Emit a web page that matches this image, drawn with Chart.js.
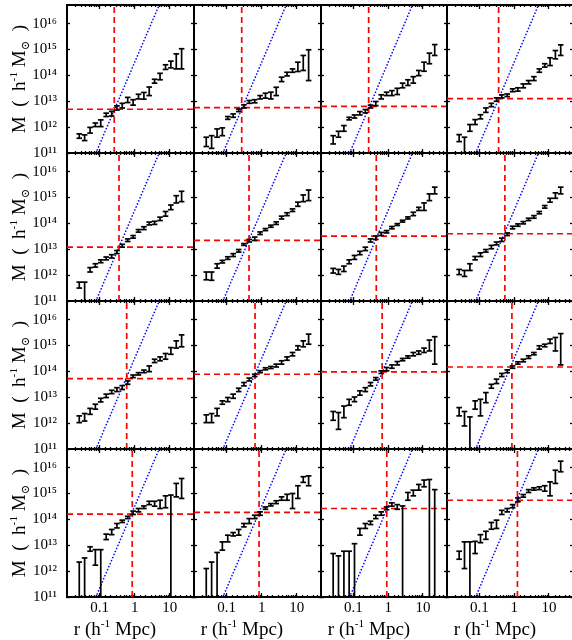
<!DOCTYPE html>
<html>
<head>
<meta charset="utf-8">
<script src="https://cdn.jsdelivr.net/npm/chart.js@4.4.0/dist/chart.umd.min.js"></script>
<style>
  html, body { margin: 0; padding: 0; background: #fff; overflow: hidden; }
  #fig { position: relative; width: 572px; height: 640px; overflow: hidden; background: #fff; }
  #fig canvas { position: absolute; left: 0; top: -20px; }
  .title { position: absolute; font-family: 'Liberation Serif', 'DejaVu Serif', serif; font-size: 19px; color: #000; white-space: nowrap; line-height: 1; }
  .title.y { transform: translate(-50%, -50%) rotate(-90deg); }
  .title.x { transform: translate(-50%, -50%); }
  .title sup, .title sub { font-size: 60%; line-height: 0; }
</style>
</head>
<body>
<div id="fig"></div>
<script>
// radial bins, same in every panel
const rBins = [0.026, 0.037, 0.053, 0.075, 0.107, 0.153, 0.22, 0.31, 0.44, 0.63,
               0.9, 1.28, 1.83, 2.6, 3.7, 5.3, 7.6, 10.8, 15.4, 21.9];

// log10 M at the top (hi) and bottom (lo) of each error bar, panels read row by row
const hi1 = [11.74, 11.70, 11.99, 12.16, 12.28, 12.54, 12.61, 12.82, 12.92, 13.15, 13.06, 13.27, 13.34, 13.55, 13.85, 14.08, 14.41, 14.55, 14.83, 15.03];
const lo1 = [11.57, 11.48, 11.77, 12.02, 12.02, 12.41, 12.43, 12.66, 12.74, 12.95, 12.85, 13.09, 13.08, 13.22, 13.70, 13.83, 14.23, 14.29, 14.25, 14.25];
const hi2 = [11.61, 11.67, 11.93, 11.97, 12.41, 12.51, 12.70, 12.86, 13.03, 13.06, 13.22, 13.31, 13.35, 13.54, 13.93, 14.12, 14.25, 14.51, 14.77, 14.99];
const lo2 = [11.25, 11.18, 11.61, 11.67, 12.30, 12.38, 12.60, 12.74, 12.92, 12.94, 13.09, 13.12, 13.09, 13.22, 13.76, 13.98, 14.12, 14.15, 14.19, 13.80];
const hi3 = [11.67, 11.84, 12.06, 12.38, 12.47, 12.60, 12.68, 12.85, 12.99, 13.25, 13.35, 13.41, 13.50, 13.70, 13.83, 13.95, 14.19, 14.51, 14.86, 15.19];
const lo3 = [11.35, 11.61, 11.84, 12.28, 12.35, 12.47, 12.55, 12.74, 12.83, 13.09, 13.22, 13.22, 13.26, 13.52, 13.61, 13.70, 13.99, 14.16, 14.45, 14.77];
const hi4 = [11.71, 11.61, 12.10, 12.29, 12.48, 12.74, 12.92, 13.13, 13.25, 13.28, 13.48, 13.52, 13.67, 13.80, 13.95, 14.25, 14.45, 14.68, 14.96, 15.18];
const lo4 = [11.44, 10.90, 11.84, 12.10, 12.32, 12.57, 12.79, 13.00, 13.13, 13.18, 13.37, 13.39, 13.52, 13.67, 13.80, 14.12, 14.32, 14.38, 14.64, 14.77];

const hi5 = [11.73, 11.73, 12.29, 12.44, 12.59, 12.70, 12.79, 12.95, 13.19, 13.40, 13.53, 13.76, 13.87, 14.05, 14.08, 14.24, 14.46, 14.71, 15.07, 15.24];
const lo5 = [11.50, 10.90, 12.12, 12.31, 12.48, 12.59, 12.66, 12.83, 13.08, 13.30, 13.43, 13.66, 13.76, 13.94, 13.96, 14.11, 14.28, 14.53, 14.79, 14.84];
const hi6 = [12.12, 12.12, 12.44, 12.57, 12.71, 12.83, 12.99, 13.22, 13.38, 13.47, 13.67, 13.80, 13.93, 14.06, 14.28, 14.41, 14.56, 14.82, 15.10, 15.29];
const lo6 = [11.82, 11.80, 12.27, 12.47, 12.61, 12.72, 12.89, 13.15, 13.28, 13.34, 13.57, 13.72, 13.85, 13.96, 14.17, 14.30, 14.46, 14.66, 14.84, 14.88];
const hi7 = [12.26, 12.22, 12.35, 12.59, 12.76, 12.92, 13.08, 13.40, 13.51, 13.65, 13.72, 13.88, 13.99, 14.12, 14.25, 14.43, 14.62, 14.79, 15.14, 15.40];
const lo7 = [12.08, 12.03, 12.14, 12.44, 12.61, 12.79, 12.95, 13.28, 13.38, 13.53, 13.63, 13.79, 13.92, 14.05, 14.17, 14.30, 14.50, 14.50, 14.88, 15.14];
const hi8 = [12.22, 12.18, 12.44, 12.72, 12.86, 12.99, 13.15, 13.28, 13.43, 13.63, 13.89, 13.98, 14.07, 14.20, 14.30, 14.46, 14.69, 14.97, 15.18, 15.40];
const lo8 = [12.02, 11.95, 12.18, 12.59, 12.72, 12.89, 13.02, 13.17, 13.30, 13.53, 13.79, 13.89, 13.98, 14.11, 14.20, 14.37, 14.59, 14.82, 14.97, 15.14];

const hi9 = [12.28, 12.37, 12.57, 12.73, 12.96, 13.12, 13.27, 13.37, 13.45, 13.63, 13.86, 13.95, 14.05, 14.21, 14.47, 14.56, 14.69, 14.92, 15.18, 15.41];
const lo9 = [12.02, 12.08, 12.34, 12.54, 12.82, 12.99, 13.14, 13.22, 13.30, 13.50, 13.76, 13.86, 13.95, 13.99, 14.34, 14.41, 14.47, 14.66, 14.90, 14.95];
const hi10 = [12.32, 12.37, 12.57, 12.86, 12.99, 13.12, 13.35, 13.57, 13.74, 13.89, 14.03, 14.14, 14.19, 14.28, 14.41, 14.56, 14.73, 14.99, 15.18, 15.44];
const lo10 = [12.02, 12.02, 12.28, 12.73, 12.83, 12.96, 13.22, 13.44, 13.63, 13.80, 13.95, 14.06, 14.11, 14.17, 14.28, 14.43, 14.60, 14.83, 14.95, 15.05];
const hi11 = [12.45, 12.41, 12.66, 12.92, 13.01, 13.25, 13.37, 13.57, 13.76, 14.02, 14.15, 14.25, 14.38, 14.50, 14.60, 14.73, 14.79, 14.90, 15.21, 15.34];
const lo11 = [12.11, 11.76, 12.21, 12.69, 12.83, 13.08, 13.22, 13.44, 13.66, 13.92, 14.02, 14.12, 14.25, 14.41, 14.51, 14.60, 14.66, 14.73, 14.79, 14.28];
const hi12 = [12.60, 12.45, 12.24, 12.86, 12.92, 13.18, 13.50, 13.70, 13.92, 14.06, 14.21, 14.37, 14.47, 14.60, 14.73, 14.99, 15.05, 15.25, 15.31, 15.46];
const lo12 = [12.28, 11.89, 10.90, 12.54, 12.28, 12.79, 13.35, 13.53, 13.80, 13.95, 14.12, 14.28, 14.37, 14.50, 14.64, 14.86, 14.95, 15.08, 14.79, 14.25];

const hi13 = [12.35, 12.51, 12.94, 12.83, 12.83, 13.43, 13.61, 13.84, 13.97, 14.12, 14.32, 14.42, 14.52, 14.70, 14.70, 14.74, 14.91, 14.94, 15.39, 15.58];
const lo13 = [10.90, 10.90, 12.77, 12.23, 10.90, 13.22, 13.41, 13.67, 13.88, 14.03, 14.19, 14.29, 14.42, 14.57, 14.51, 14.42, 14.45, 10.90, 14.87, 14.81];
const hi14 = [12.10, 12.35, 12.72, 13.13, 13.39, 13.49, 13.61, 13.84, 14.03, 14.16, 14.29, 14.48, 14.61, 14.72, 14.87, 14.97, 15.00, 15.30, 15.65, 15.68];
const lo14 = [10.90, 10.90, 10.90, 12.81, 13.13, 13.36, 13.39, 13.71, 13.84, 14.03, 14.16, 14.39, 14.52, 14.61, 14.74, 14.74, 14.42, 14.81, 15.43, 15.30];
const hi15 = [12.68, 12.59, 12.77, 12.77, 13.06, 13.65, 13.84, 13.93, 14.16, 14.29, 14.48, 14.64, 14.57, 14.52, 15.04, 15.13, 15.35, 15.52, 15.54, 15.15];
const lo15 = [10.90, 10.90, 10.90, 10.90, 10.90, 13.39, 13.65, 13.80, 14.03, 14.16, 14.37, 14.51, 14.39, 10.90, 14.74, 14.91, 15.13, 15.26, 10.90, 10.90];
const hi16 = [12.77, 13.13, 13.13, 13.15, 13.41, 13.54, 13.88, 13.97, 14.35, 14.42, 14.57, 14.83, 14.96, 15.15, 15.22, 15.26, 15.30, 15.45, 15.90, 16.25];
const lo16 = [12.46, 12.10, 10.90, 12.68, 13.10, 13.23, 13.62, 13.65, 14.19, 14.29, 14.45, 14.68, 14.86, 15.04, 15.13, 15.15, 15.09, 14.91, 15.39, 15.84];

// red dashed cross per panel: radius and log10 mass
const redR = [0.26, 0.268, 0.274, 0.356, 0.356, 0.434, 0.454, 0.54, 0.59, 0.645, 0.67, 0.86, 0.85, 0.84, 0.91, 1.24];
const redLogM = [12.69, 12.75, 12.80, 13.10, 13.08, 13.34, 13.51, 13.60, 13.72, 13.89, 13.98, 14.17, 14.20, 14.27, 14.42, 14.74];

// blue dotted line, same in every panel
const blueR = [0.0776, 5.0];
const blueLogM = [11, 16.72];

const xTicks = [0.1, 1, 10];
const yTickExps = [11, 12, 13, 14, 15, 16];

const X_MIN = 0.0116, X_MAX = 49.5;
const Y_MIN = 1e11, Y_MAX = 5.25e16;

const his = [hi1, hi2, hi3, hi4, hi5, hi6, hi7, hi8, hi9, hi10, hi11, hi12, hi13, hi14, hi15, hi16];
const los = [lo1, lo2, lo3, lo4, lo5, lo6, lo7, lo8, lo9, lo10, lo11, lo12, lo13, lo14, lo15, lo16];

// panel frame edges on the page
const COL_EDGES = [67, 194, 321, 447, 573];
const ROW_EDGES = [5, 153, 301, 449, 597];
const CANVAS_W = 600, CANVAS_H = 680, SHIFT = 20;
const Y_LABEL_W = 60, X_LABEL_H = 30;

const SERIF = "'Liberation Serif', 'DejaVu Serif', serif";
const SUP = { '0': '⁰', '1': '¹', '2': '²', '3': '³', '4': '⁴', '5': '⁵', '6': '⁶', '7': '⁷', '8': '⁸', '9': '⁹', '-': '⁻' };

function decadeLabel(v) {
    const e = String(Math.round(Math.log10(v)));
    return '10' + e.split('').map(c => SUP[c]).join('');
}

function logAxis(pos, min, max, tickLen, tickValues, labelFn, opts = {}) {
    return {
        type: 'logarithmic',
        position: pos,
        weight: opts.weight || 0,
        min,
        max,
        border: { display: true, color: '#000', width: 2 },
        grid: { drawOnChartArea: false, tickLength: -tickLen, tickColor: '#000', tickWidth: 1.3 },
        ticks: {
            display: !!labelFn,
            autoSkip: false,
            maxRotation: 0,
            minRotation: 0,
            padding: opts.pad || 0,
            color: '#000',
            font: { family: SERIF, size: opts.size || 14 },
            callback: labelFn || (() => ''),
        },
        afterBuildTicks: s => {
            s.ticks = tickValues
                ? tickValues.map(v => ({ value: v }))
                : s.ticks.filter(t => t.value > min * 1.001 && t.value < max / 1.001);
        },
        afterFit: s => {
            const size = labelFn ? opts.box : 0;
            if (s.isHorizontal()) s.height = size; else s.width = size;
        },
    };
}

function errorBars(hi, lo) {
    const pts = [];
    rBins.forEach((r, i) => {
        pts.push({ x: r, y: 10 ** lo[i] }, { x: r, y: 10 ** hi[i] }, { x: r, y: null });
    });
    return pts;
}

const fig = document.getElementById('fig');
const yTicks = yTickExps.map(e => 10 ** e);

his.forEach((hi, k) => {
    const row = Math.floor(k / 4), col = k % 4;
    const canvas = document.createElement('canvas');
    canvas.width = CANVAS_W;
    canvas.height = CANVAS_H;
    fig.appendChild(canvas);

    const leftBox = col === 0 ? Y_LABEL_W : 0;
    const bottomBox = row === 3 ? X_LABEL_H : 0;
    const redM = 10 ** redLogM[k];

    new Chart(canvas, {
        type: 'line',
        data: {
            datasets: [
                {
                    data: errorBars(hi, los[k]),
                    borderColor: '#000',
                    borderWidth: 1.7,
                    pointStyle: 'line',
                    pointRadius: 2.8,
                    pointBorderWidth: 1.7,
                    pointBorderColor: '#000',
                    spanGaps: false,
                },
                {
                    data: [{ x: X_MIN, y: redM }, { x: X_MAX, y: redM }],
                    borderColor: '#ff0000',
                    borderWidth: 1.7,
                    borderDash: [6, 4],
                    pointRadius: 0,
                },
                {
                    data: [{ x: redR[k], y: Y_MIN }, { x: redR[k], y: Y_MAX }],
                    borderColor: '#ff0000',
                    borderWidth: 1.7,
                    borderDash: [6, 4],
                    pointRadius: 0,
                },
                {
                    data: blueR.map((r, i) => ({ x: r, y: 10 ** blueLogM[i] })),
                    borderColor: '#0000ff',
                    borderWidth: 1.6,
                    borderDash: [0.1, 3.2],
                    borderCapStyle: 'round',
                    pointRadius: 0,
                },
            ],
        },
        options: {
            responsive: false,
            animation: false,
            events: [],
            layout: {
                padding: {
                    left: COL_EDGES[col] - leftBox,
                    right: CANVAS_W - COL_EDGES[col + 1],
                    top: ROW_EDGES[row] + SHIFT,
                    bottom: CANVAS_H - ROW_EDGES[row + 1] - SHIFT - bottomBox,
                },
            },
            plugins: { legend: { display: false }, tooltip: { enabled: false } },
            scales: {
                x: logAxis('bottom', X_MIN, X_MAX, 2, null, null),
                xMajor: logAxis('bottom', X_MIN, X_MAX, 4, xTicks, row === 3 ? v => String(v) : null,
                    { weight: 1, pad: 6, size: 15, box: X_LABEL_H }),
                xTop: logAxis('top', X_MIN, X_MAX, 2, null, null),
                xTopMajor: logAxis('top', X_MIN, X_MAX, 4, xTicks, null, { weight: 1 }),
                y: logAxis('left', Y_MIN, Y_MAX, 3, yTicks, col === 0 ? decadeLabel : null,
                    { pad: 13, size: 15, box: Y_LABEL_W }),
                yRight: logAxis('right', Y_MIN, Y_MAX, 3, yTicks, null),
            },
        },
    });
});

// axis titles
for (let row = 0; row < 4; row++) {
    const t = document.createElement('div');
    t.className = 'title y';
    t.style.left = '18px';
    t.style.top = ((ROW_EDGES[row] + ROW_EDGES[row + 1]) / 2) + 'px';
    t.innerHTML = 'M&nbsp;&nbsp;(&nbsp;&nbsp;h<sup>-1</sup>&nbsp;M<sub>⊙</sub>&nbsp;&nbsp;)';
    fig.appendChild(t);
}
for (let col = 0; col < 4; col++) {
    const t = document.createElement('div');
    t.className = 'title x';
    t.style.left = (COL_EDGES[col] + 48) + 'px';
    t.style.top = '628px';
    t.innerHTML = 'r (h<sup>-1</sup> Mpc)';
    fig.appendChild(t);
}
</script>
</body>
</html>
